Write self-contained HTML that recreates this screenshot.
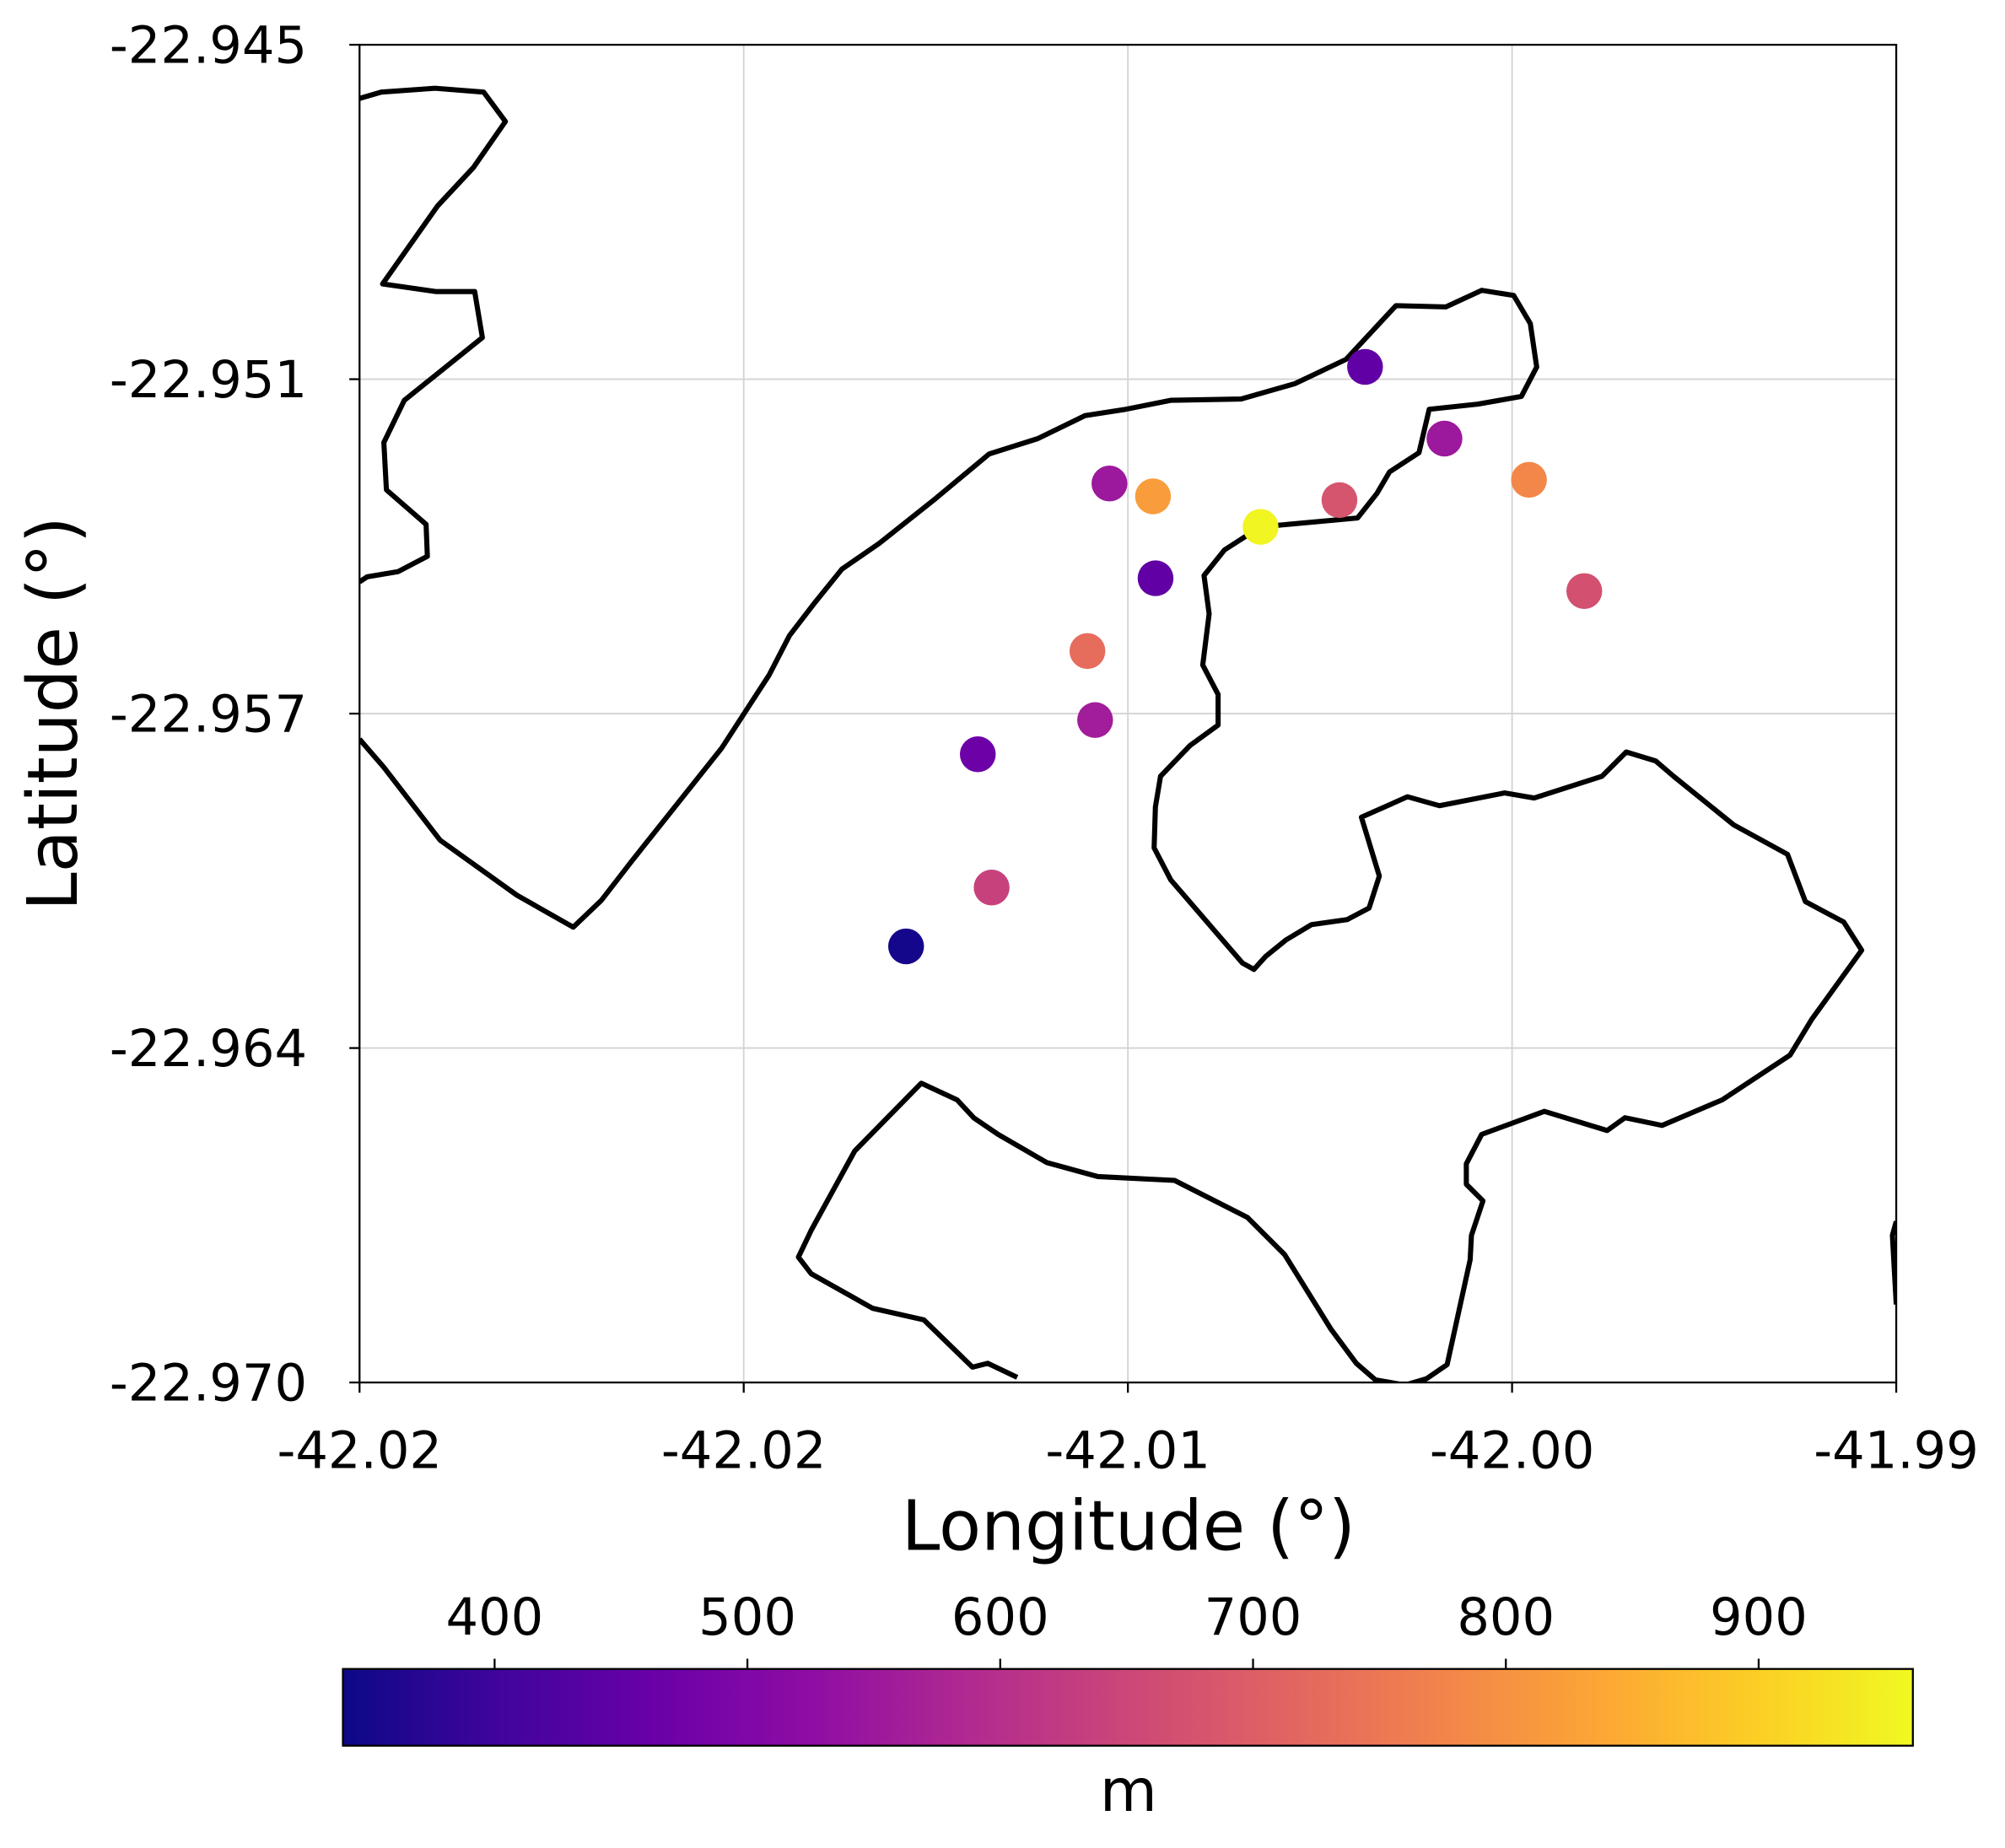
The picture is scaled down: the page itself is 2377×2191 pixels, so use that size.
<!DOCTYPE html>
<html><head><meta charset="utf-8"><style>
html,body{margin:0;padding:0;background:#fff}
svg{display:block;font-family:"DejaVu Sans","Liberation Sans",sans-serif}
</style></head><body>
<svg id="chart" width="2377" height="2191" viewBox="0 0 1567 1445" preserveAspectRatio="none" xmlns="http://www.w3.org/2000/svg">
<defs>
<linearGradient id="plasma" x1="0" x2="1" y1="0" y2="0">
<stop offset="0" stop-color="#0d0887"/><stop offset="0.1" stop-color="#41049d"/><stop offset="0.2" stop-color="#6a00a8"/><stop offset="0.3" stop-color="#8f0da4"/><stop offset="0.4" stop-color="#b12a90"/><stop offset="0.5" stop-color="#cc4778"/><stop offset="0.6" stop-color="#e16462"/><stop offset="0.7" stop-color="#f2844b"/><stop offset="0.8" stop-color="#fca636"/><stop offset="0.9" stop-color="#fcce25"/><stop offset="1" stop-color="#f0f921"/>
</linearGradient>
<clipPath id="plotclip"><rect x="281" y="35" width="1201" height="1046"/></clipPath>
</defs>
<g id="grid"></g>
<g clip-path="url(#plotclip)" fill="none" stroke="#000" stroke-width="4" stroke-linejoin="round">
<polyline points="281,77 298,72 340,69 378,72 395,95 370,131 342,161 299,222 341,228 371,228 377,264 316,313 300,346 302,383 333,410 334,435 311,447 287,451 281,455"/>
<polyline points="281,578 300,600 344,657 404,700 448,725 470,704 494,673 564,585 601,528 617,497 637,471 658,445 687,425 731,390 773,355 811,343 848,325 880,320 915,313 970,312 1012,300 1052,281 1091,239 1130,240 1158,227 1183,231 1196,253 1201,287 1189,310 1155,316 1117,320 1109,354 1086,369 1076,386 1061,405 985,412 957,430 941,450 945,480 940,520 952,543 952,567 930,583 907,607 903,631 902,663 915,688 971,753 980,758 989,748 1005,735 1025,723 1053,719 1070,710 1078,685 1064,639 1100,623 1125,630 1176,620 1199,624 1252,607 1271,588 1294,595 1308,607 1355,645 1397,668 1411,705 1441,721 1455,743 1416,797 1399,825 1346,860 1299,880 1270,874 1256,884 1207,869 1158,887 1146,910 1146,926 1159,939 1150,966 1149,985 1131,1067 1115,1078 1098,1083 1075,1079 1060,1066 1040,1039 1004,981 975,952 918,923 858,920 818,909 780,887 761,874 748,860 720,847 668,900 634,962 624,983 634,996 682,1023 722,1032 760,1069 772,1066 795,1077"/>
<polyline points="1482,955 1479,966 1482,1020"/>
</g>
<g id="points"></g>
<rect x="281" y="35" width="1201" height="1046" fill="none" stroke="#000" stroke-width="1.5"/>
<g id="axes"></g>
<text x="882" y="1212" font-size="54" text-anchor="middle">Longitude (°)</text>
<text transform="translate(60,558) rotate(-90)" font-size="54" text-anchor="middle">Latitude (°)</text>
<rect x="268" y="1305" width="1227" height="60" fill="url(#plasma)" stroke="#000" stroke-width="1.5"/>
<g id="cbticks"></g>
<text x="882" y="1416" font-size="46" text-anchor="middle">m</text>
<script>
const lonTicks=[-42.0225,-42.015,-42.0075,-42.0,-41.9925];
const lonTickLabels=["-42.02","-42.02","-42.01","-42.00","-41.99"];
const latTicks=[-22.945,-22.95125,-22.9575,-22.96375,-22.970];
const latTickLabels=["-22.945","-22.951","-22.957","-22.964","-22.970"];
const cbTicks=[400,500,600,700,800,900];
const pointLon=[-42.00287,-42.00132,-41.99967,-42.00786,-42.00701,-42.00491,-42.00337,-42.00696,-41.99859,-42.00829,-42.00814,-42.01043,-42.01016,-42.01183];
const pointLat=[-22.95102,-22.95236,-22.95313,-22.95320,-22.95344,-22.95401,-22.95351,-22.95497,-22.95521,-22.95633,-22.95762,-22.95826,-22.96075,-22.96185];
const pointVal=[450,550,780,550,820,955,680,450,670,730,560,470,640,350];
const NS="http://www.w3.org/2000/svg";
const lonMin=-42.0225,lonMax=-41.9925,latMax=-22.945,latMin=-22.970,vMin=340,vMax=961;
function xs(v){return 281+(v-lonMin)/(lonMax-lonMin)*1201;}
function ys(v){return 35+(latMax-v)/(latMax-latMin)*1046;}
function cs(v){return 268+(v-vMin)/(vMax-vMin)*1227;}
const stops=["#0d0887","#41049d","#6a00a8","#8f0da4","#b12a90","#cc4778","#e16462","#f2844b","#fca636","#fcce25","#f0f921"];
function hex(h){return [1,3,5].map(i=>parseInt(h.substr(i,2),16));}
function color(v){let t=Math.max(0,Math.min(1,(v-vMin)/(vMax-vMin)))*10;let i=Math.min(9,Math.floor(t));let f=t-i;let a=hex(stops[i]),b=hex(stops[i+1]);return "rgb("+a.map((c,k)=>Math.round(c+(b[k]-c)*f)).join(",")+")";}
function mk(tag,attrs,parent){const e=document.createElementNS(NS,tag);for(const k in attrs)e.setAttribute(k,attrs[k]);parent.appendChild(e);return e;}
const grid=document.getElementById('grid'),axes=document.getElementById('axes');
lonTicks.forEach((v,i)=>{const x=xs(v);
 const g=mk('line',{x1:x,x2:x,y1:35,y2:1081,stroke:'#d3d3d3','stroke-width':1.2},grid);
 
 
 const t=mk('line',{x1:x,x2:x,y1:1081,y2:1089,stroke:'#000','stroke-width':1.5},axes);
 
 
 const l=mk('text',{x:x,y:1148,'font-size':40,'text-anchor':'middle'},axes);l.textContent=lonTickLabels[i];
 
 
});
latTicks.forEach((v,i)=>{const y=ys(v);
 const g=mk('line',{x1:281,x2:1482,y1:y,y2:y,stroke:'#d3d3d3','stroke-width':1.2},grid);
 
 
 const t=mk('line',{x1:273,x2:281,y1:y,y2:y,stroke:'#000','stroke-width':1.5},axes);
 
 
 const l=mk('text',{x:240,y:y+14,'font-size':40,'text-anchor':'end'},axes);l.textContent=latTickLabels[i];
 
 
});
const pts=document.getElementById('points');
pointVal.forEach((v,i)=>{const c=mk('circle',{cx:xs(pointLon[i]),cy:ys(pointLat[i]),r:14,fill:color(v)},pts);
 
 
});
const cb=document.getElementById('cbticks');
cbTicks.forEach(v=>{const x=cs(v);
 const t=mk('line',{x1:x,x2:x,y1:1297,y2:1305,stroke:'#000','stroke-width':1.5},cb);
 
 
 const l=mk('text',{x:x,y:1278,'font-size':40,'text-anchor':'middle'},cb);l.textContent=v;
 
 
});
</script>
</svg>
</body></html>
